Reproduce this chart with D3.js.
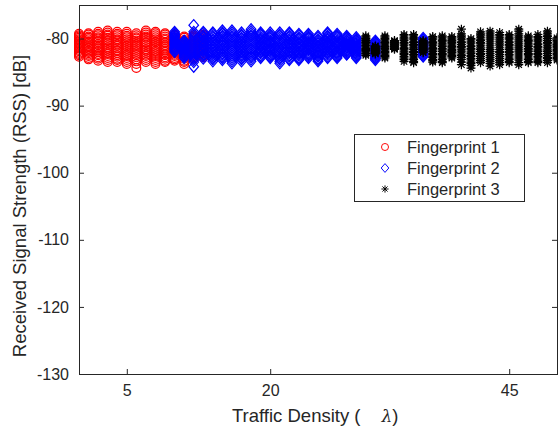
<!DOCTYPE html>
<html>
<head>
<meta charset="utf-8">
<script src="https://cdn.jsdelivr.net/npm/d3@7"></script>
<style>
  body { margin: 0; background: #fff; }
  text { font-family: "Liberation Sans", Arial, Helvetica, sans-serif; fill: #262626; }
</style>
</head>
<body>
<script>
// traffic density (lambda) of each column, and the RSS readings [dB] in that column
const fp1X = [0, 1, 2, 3, 4, 5, 6, 7, 8, 9, 10, 11, 12, 13];
const fp1Y = [
  [-79.3, -79.5, -79.7, -79.9, -80.1, -80.3, -80.5, -80.7, -80.9, -81.1, -81.3, -81.5, -81.7, -81.9, -82.1, -82.3, -82.5, -82.7],
  [-79.2, -79.4, -79.7, -79.9, -80.1, -80.4, -80.6, -80.8, -81.1, -81.3, -81.5, -81.8, -82.0, -82.2, -82.4, -82.6, -82.9, -83.1],
  [-79.0, -79.3, -79.5, -79.8, -80.0, -80.3, -80.5, -80.8, -81.0, -81.3, -81.5, -81.8, -82.0, -82.3, -82.5, -82.8, -83.0, -83.3],
  [-78.8, -79.1, -79.4, -79.6, -79.9, -80.2, -80.4, -80.7, -81.0, -81.3, -81.5, -81.8, -82.1, -82.3, -82.6, -82.9, -83.2, -83.5],
  [-79.0, -79.3, -79.5, -79.8, -80.1, -80.3, -80.6, -80.9, -81.1, -81.4, -81.7, -81.9, -82.2, -82.5, -82.7, -83.0, -83.2, -83.5],
  [-79.0, -79.3, -79.6, -79.8, -80.1, -80.4, -80.7, -81.0, -81.2, -81.5, -81.8, -82.1, -82.4, -82.6, -82.9, -83.2, -83.5, -83.8],
  [-79.2, -79.5, -79.8, -80.0, -80.3, -80.6, -80.9, -81.1, -81.4, -81.7, -82.0, -82.3, -82.5, -82.8, -83.1, -83.4, -83.8, -84.4],
  [-78.8, -79.1, -79.4, -79.7, -79.9, -80.2, -80.5, -80.7, -81.0, -81.3, -81.6, -81.8, -82.1, -82.4, -82.6, -82.9, -83.2, -83.5],
  [-79.0, -79.2, -79.5, -79.8, -80.1, -80.4, -80.6, -80.9, -81.2, -81.5, -81.8, -82.0, -82.3, -82.6, -82.9, -83.2, -83.5, -83.8],
  [-79.2, -79.4, -79.7, -80.0, -80.2, -80.5, -80.7, -81.0, -81.2, -81.5, -81.8, -82.0, -82.3, -82.5, -82.8, -83.0, -83.3, -83.5],
  [-79.4, -79.6, -79.9, -80.1, -80.3, -80.6, -80.8, -81.0, -81.3, -81.5, -81.7, -82.0, -82.2, -82.4, -82.6, -82.9, -83.1, -83.3],
  [-79.7, -79.9, -80.2, -80.4, -80.6, -80.9, -81.1, -81.4, -81.6, -81.9, -82.1, -82.3, -82.6, -82.8, -83.0, -83.3, -83.5, -83.8],
  [-79.5, -79.7, -79.9, -80.1, -80.3, -80.5, -80.7, -80.9, -81.1, -81.4, -81.6, -81.8, -82.0, -82.2, -82.4, -82.6, -82.8, -83.0],
  [-79.4, -79.6, -79.8, -80.0, -80.2, -80.4, -80.6, -80.8, -81.0, -81.2, -81.4, -81.6, -81.8, -82.0, -82.2, -82.4, -82.6, -82.8]
];

const fp2X = [10, 11, 12, 13, 14, 15, 16, 17, 18, 19, 20, 21, 22, 23, 24, 25, 26, 27, 28, 29, 31, 36];
const fp2Y = [
  [-79.0, -79.2, -79.4, -79.5, -79.7, -79.9, -80.1, -80.2, -80.4, -80.6, -80.8, -80.9, -81.1, -81.3, -81.5, -81.6, -81.8, -82.0],
  [-80.3, -80.4, -80.6, -80.7, -80.9, -81.0, -81.2, -81.3, -81.5, -81.6, -81.8, -81.9, -82.1, -82.2, -82.4, -82.5, -82.7, -82.9],
  [-78.0, -79.0, -79.3, -79.6, -79.9, -80.2, -80.5, -80.8, -81.1, -81.4, -81.7, -82.0, -82.3, -82.6, -82.9, -83.2, -83.5, -84.2],
  [-79.0, -79.2, -79.5, -79.7, -79.9, -80.2, -80.4, -80.6, -80.9, -81.1, -81.3, -81.6, -81.8, -82.0, -82.3, -82.5, -82.7, -83.0],
  [-79.1, -79.3, -79.6, -79.8, -80.1, -80.3, -80.6, -80.8, -81.1, -81.3, -81.6, -81.8, -82.1, -82.3, -82.6, -82.9, -83.1, -83.4],
  [-78.8, -79.1, -79.3, -79.6, -79.8, -80.1, -80.4, -80.6, -80.9, -81.1, -81.4, -81.6, -81.9, -82.2, -82.4, -82.7, -82.9, -83.2],
  [-78.8, -79.1, -79.4, -79.7, -79.9, -80.2, -80.5, -80.8, -81.1, -81.4, -81.7, -81.9, -82.2, -82.5, -82.8, -83.1, -83.4, -83.7],
  [-79.1, -79.4, -79.6, -79.9, -80.1, -80.4, -80.6, -80.9, -81.1, -81.4, -81.6, -81.9, -82.1, -82.4, -82.6, -82.9, -83.1, -83.4],
  [-78.6, -78.9, -79.2, -79.5, -79.7, -80.0, -80.3, -80.6, -80.9, -81.2, -81.5, -81.7, -82.0, -82.3, -82.6, -82.8, -83.1, -83.4],
  [-79.1, -79.3, -79.5, -79.8, -80.0, -80.2, -80.4, -80.7, -80.9, -81.1, -81.3, -81.6, -81.8, -82.0, -82.2, -82.5, -82.7, -82.9],
  [-79.1, -79.4, -79.6, -79.8, -80.0, -80.3, -80.5, -80.7, -80.9, -81.2, -81.4, -81.6, -81.8, -82.0, -82.3, -82.5, -82.7, -82.9],
  [-79.1, -79.4, -79.6, -79.9, -80.2, -80.4, -80.7, -81.0, -81.3, -81.5, -81.8, -82.1, -82.3, -82.6, -82.9, -83.1, -83.4, -83.7],
  [-79.1, -79.3, -79.6, -79.8, -80.1, -80.3, -80.6, -80.8, -81.0, -81.3, -81.5, -81.8, -82.0, -82.2, -82.5, -82.7, -83.0, -83.2],
  [-79.3, -79.5, -79.8, -80.0, -80.2, -80.5, -80.7, -80.9, -81.2, -81.4, -81.6, -81.9, -82.1, -82.3, -82.5, -82.8, -83.0, -83.2],
  [-79.3, -79.5, -79.7, -79.9, -80.1, -80.4, -80.6, -80.8, -81.0, -81.2, -81.4, -81.6, -81.8, -82.1, -82.3, -82.5, -82.7, -82.9],
  [-79.6, -79.8, -80.1, -80.3, -80.5, -80.7, -81.0, -81.2, -81.4, -81.6, -81.9, -82.1, -82.3, -82.5, -82.7, -83.0, -83.2, -83.4],
  [-79.1, -79.3, -79.6, -79.8, -80.0, -80.2, -80.5, -80.7, -80.9, -81.1, -81.3, -81.6, -81.8, -82.0, -82.2, -82.4, -82.7, -82.9],
  [-79.3, -79.5, -79.7, -79.9, -80.2, -80.4, -80.6, -80.8, -81.0, -81.2, -81.4, -81.7, -81.9, -82.1, -82.3, -82.5, -82.7, -82.9],
  [-79.6, -79.8, -79.9, -80.1, -80.3, -80.4, -80.6, -80.8, -80.9, -81.1, -81.3, -81.4, -81.6, -81.8, -81.9, -82.1, -82.3, -82.4],
  [-79.8, -80.0, -80.2, -80.3, -80.5, -80.7, -80.9, -81.1, -81.2, -81.4, -81.6, -81.8, -81.9, -82.1, -82.3, -82.5, -82.7, -82.9],
  [-80.3, -80.5, -80.6, -80.8, -81.0, -81.2, -81.3, -81.5, -81.7, -81.8, -82.0, -82.2, -82.3, -82.5, -82.7, -82.9, -83.0, -83.2],
  [-79.9, -80.1, -80.2, -80.4, -80.6, -80.7, -80.9, -81.1, -81.2, -81.4, -81.6, -81.7, -81.9, -82.1, -82.2, -82.4, -82.6, -82.7]
];

const fp3X = [30, 31, 32, 33, 34, 35, 36, 37, 38, 39, 40, 41, 42, 43, 44, 45, 46, 47, 48, 49, 50];
const fp3Y = [
  [-79.6, -79.8, -80.0, -80.1, -80.3, -80.5, -80.6, -80.8, -81.0, -81.1, -81.3, -81.5, -81.6, -81.8, -82.0, -82.2, -82.3, -82.5],
  [-81.1, -81.2, -81.3, -81.4, -81.5, -81.6, -81.7, -81.8, -81.9, -82.0, -82.1, -82.2, -82.3],
  [-79.6, -79.8, -80.0, -80.2, -80.4, -80.6, -80.8, -81.0, -81.2, -81.3, -81.5, -81.7, -81.9, -82.1, -82.3, -82.5, -82.7, -82.9],
  [-80.3, -80.4, -80.5, -80.6, -80.7, -80.8, -80.9, -81.0, -81.1, -81.2, -81.3, -81.4, -81.5, -81.6],
  [-79.4, -79.6, -79.9, -80.1, -80.3, -80.6, -80.8, -81.0, -81.3, -81.5, -81.7, -82.0, -82.2, -82.4, -82.7, -82.9, -83.1, -83.4],
  [-79.4, -79.6, -79.9, -80.1, -80.4, -80.6, -80.9, -81.1, -81.4, -81.6, -81.9, -82.1, -82.4, -82.6, -82.9, -83.1, -83.4, -83.6],
  [-80.3, -80.4, -80.5, -80.6, -80.7, -80.8, -80.9, -81.0, -81.1, -81.2, -81.3, -81.4, -81.5, -81.6, -81.7, -81.8, -82.0, -82.1],
  [-79.7, -79.9, -80.1, -80.4, -80.6, -80.8, -81.0, -81.3, -81.5, -81.7, -81.9, -82.2, -82.4, -82.6, -82.8, -83.1, -83.3, -83.5],
  [-79.6, -79.8, -80.1, -80.3, -80.5, -80.8, -81.0, -81.2, -81.5, -81.7, -81.9, -82.2, -82.4, -82.6, -82.9, -83.1, -83.4, -83.6],
  [-79.7, -79.9, -80.1, -80.3, -80.4, -80.6, -80.8, -81.0, -81.2, -81.4, -81.6, -81.8, -82.0, -82.1, -82.3, -82.5, -82.7, -82.9],
  [-78.6, -79.3, -79.6, -79.8, -80.1, -80.4, -80.6, -80.9, -81.2, -81.4, -81.7, -82.0, -82.3, -82.5, -82.8, -83.1, -83.5, -83.9],
  [-80.0, -80.2, -80.5, -80.7, -81.0, -81.2, -81.5, -81.7, -82.0, -82.2, -82.5, -82.7, -83.0, -83.2, -83.5, -83.7, -84.0, -84.4],
  [-79.0, -79.3, -79.5, -79.8, -80.1, -80.3, -80.6, -80.8, -81.1, -81.4, -81.6, -81.9, -82.2, -82.4, -82.7, -83.0, -83.3, -83.6],
  [-78.9, -79.2, -79.5, -79.8, -80.1, -80.4, -80.7, -81.0, -81.3, -81.6, -81.9, -82.2, -82.5, -82.8, -83.1, -83.4, -83.7, -84.1],
  [-79.1, -79.4, -79.6, -79.9, -80.2, -80.5, -80.8, -81.0, -81.3, -81.6, -81.9, -82.1, -82.4, -82.7, -83.0, -83.3, -83.6, -83.9],
  [-79.4, -79.6, -79.9, -80.1, -80.4, -80.6, -80.9, -81.1, -81.4, -81.6, -81.9, -82.1, -82.4, -82.6, -82.9, -83.1, -83.4, -83.6],
  [-78.6, -78.9, -79.3, -79.6, -79.9, -80.2, -80.5, -80.8, -81.1, -81.4, -81.7, -82.0, -82.3, -82.6, -82.9, -83.2, -83.6, -83.9],
  [-79.6, -79.8, -80.1, -80.3, -80.5, -80.8, -81.0, -81.2, -81.5, -81.7, -81.9, -82.2, -82.4, -82.6, -82.9, -83.1, -83.4, -83.6],
  [-79.4, -79.7, -79.9, -80.2, -80.4, -80.7, -80.9, -81.2, -81.4, -81.7, -81.9, -82.2, -82.4, -82.7, -82.9, -83.2, -83.4, -83.6],
  [-78.9, -79.2, -79.5, -79.7, -80.0, -80.3, -80.6, -80.8, -81.1, -81.4, -81.7, -81.9, -82.2, -82.5, -82.8, -83.0, -83.3, -83.6],
  [-79.9, -80.1, -80.3, -80.5, -80.7, -80.9, -81.0, -81.2, -81.4, -81.6, -81.8, -82.0, -82.2, -82.4, -82.6, -82.8, -83.0, -83.2]
];

const xTicks = [5, 20, 45];
const yTicks = [-130, -120, -110, -100, -90, -80];
const seriesNames = ["Fingerprint 1", "Fingerprint 2", "Fingerprint 3"];

const width = 558, height = 431;
const margin = { left: 79, right: 1, top: 5, bottom: 57 };

const x = d3.scaleLinear().domain([0, 50]).range([margin.left, width - margin.right]);
const y = d3.scaleLinear().domain([-130, -75]).range([height - margin.bottom, margin.top]);

const svg = d3.select("body").append("svg")
  .attr("width", width)
  .attr("height", height);

// marker shapes, MATLAB style
const markers = {
  circle: "M4.4,0A4.4,4.4 0 1,1 -4.4,0A4.4,4.4 0 1,1 4.4,0Z",
  diamond: "M0,-5.5L4.8,0L0,5.5L-4.8,0Z",
  star: "M-4.5,0H4.5M0,-4.5V4.5M-3.2,-3.2L3.2,3.2M-3.2,3.2L3.2,-3.2"
};

const series = [
  { xs: fp1X, ys: fp1Y, shape: "circle", color: "#ff0000" },
  { xs: fp2X, ys: fp2Y, shape: "diamond", color: "#0000ff" },
  { xs: fp3X, ys: fp3Y, shape: "star", color: "#000000" }
];

series.forEach(s => {
  const pts = [];
  s.xs.forEach((lam, i) => s.ys[i].forEach(v => pts.push([lam, v])));
  svg.append("g")
    .selectAll("path")
    .data(pts)
    .enter()
    .append("path")
    .attr("d", markers[s.shape])
    .attr("transform", d => `translate(${x(d[0])},${y(d[1])})`)
    .attr("fill", "none")
    .attr("stroke", s.color)
    .attr("stroke-width", 1.2);
});

// axes, ticks pointing inwards on all four sides
const axisColor = "#262626";
const fontSize = "16px";

const gx = svg.append("g")
  .attr("transform", `translate(0,${y.range()[0]})`)
  .call(d3.axisBottom(x).tickValues(xTicks).tickSizeInner(-5).tickSizeOuter(0).tickPadding(10.5).tickFormat(d => String(d)));
const gxTop = svg.append("g")
  .attr("transform", `translate(0,${y.range()[1]})`)
  .call(d3.axisTop(x).tickValues(xTicks).tickSizeInner(-5).tickSizeOuter(0).tickFormat(""));
const gy = svg.append("g")
  .attr("transform", `translate(${x.range()[0]},0)`)
  .call(d3.axisLeft(y).tickValues(yTicks).tickSizeInner(-5).tickSizeOuter(0).tickPadding(10).tickFormat(d => String(d)));
const gyRight = svg.append("g")
  .attr("transform", `translate(${x.range()[1]},0)`)
  .call(d3.axisRight(y).tickValues(yTicks).tickSizeInner(-5).tickSizeOuter(0).tickFormat(""));

[gx, gxTop, gy, gyRight].forEach(g => {
  g.select(".domain").remove();
  g.selectAll("line").attr("stroke", axisColor);
  g.selectAll("text")
    .style("font-family", '"Liberation Sans", Arial, sans-serif')
    .style("font-size", fontSize)
    .attr("fill", axisColor);
});

svg.append("rect")
  .attr("x", x.range()[0])
  .attr("y", y.range()[1])
  .attr("width", x.range()[1] - x.range()[0])
  .attr("height", y.range()[0] - y.range()[1])
  .attr("fill", "none")
  .attr("stroke", axisColor)
  .attr("stroke-width", 1)
  .attr("shape-rendering", "crispEdges");

// axis labels
const xl = svg.append("text")
  .attr("x", 232)
  .attr("y", 422)
  .style("font-size", "18.5px");
xl.append("tspan").text("Traffic Density (");
xl.append("tspan")
  .attr("dx", 21)
  .style("font-family", '"DejaVu Serif", serif')
  .style("font-style", "italic")
  .style("font-size", "17px")
  .text("λ");
xl.append("tspan").text(")");

svg.append("text")
  .attr("transform", "translate(26,206) rotate(-90)")
  .attr("text-anchor", "middle")
  .style("font-size", "18.5px")
  .text("Received Signal Strength (RSS) [dB]");

// legend
const legend = svg.append("g").attr("transform", "translate(354,134)");
legend.append("rect")
  .attr("width", 170)
  .attr("height", 67)
  .attr("fill", "#fff")
  .attr("stroke", axisColor)
  .attr("stroke-width", 1)
  .attr("shape-rendering", "crispEdges");

series.forEach((s, i) => {
  const row = legend.append("g").attr("transform", `translate(0,${13 + i * 21})`);
  row.append("path")
    .attr("d", markers[s.shape])
    .attr("transform", "translate(31,0) scale(0.8)")
    .attr("fill", "none")
    .attr("stroke", s.color)
    .attr("stroke-width", 1.2);
  row.append("text")
    .attr("x", 53)
    .attr("dy", "0.35em")
    .style("font-size", "16.5px")
    .text(seriesNames[i]);
});
</script>
</body>
</html>
